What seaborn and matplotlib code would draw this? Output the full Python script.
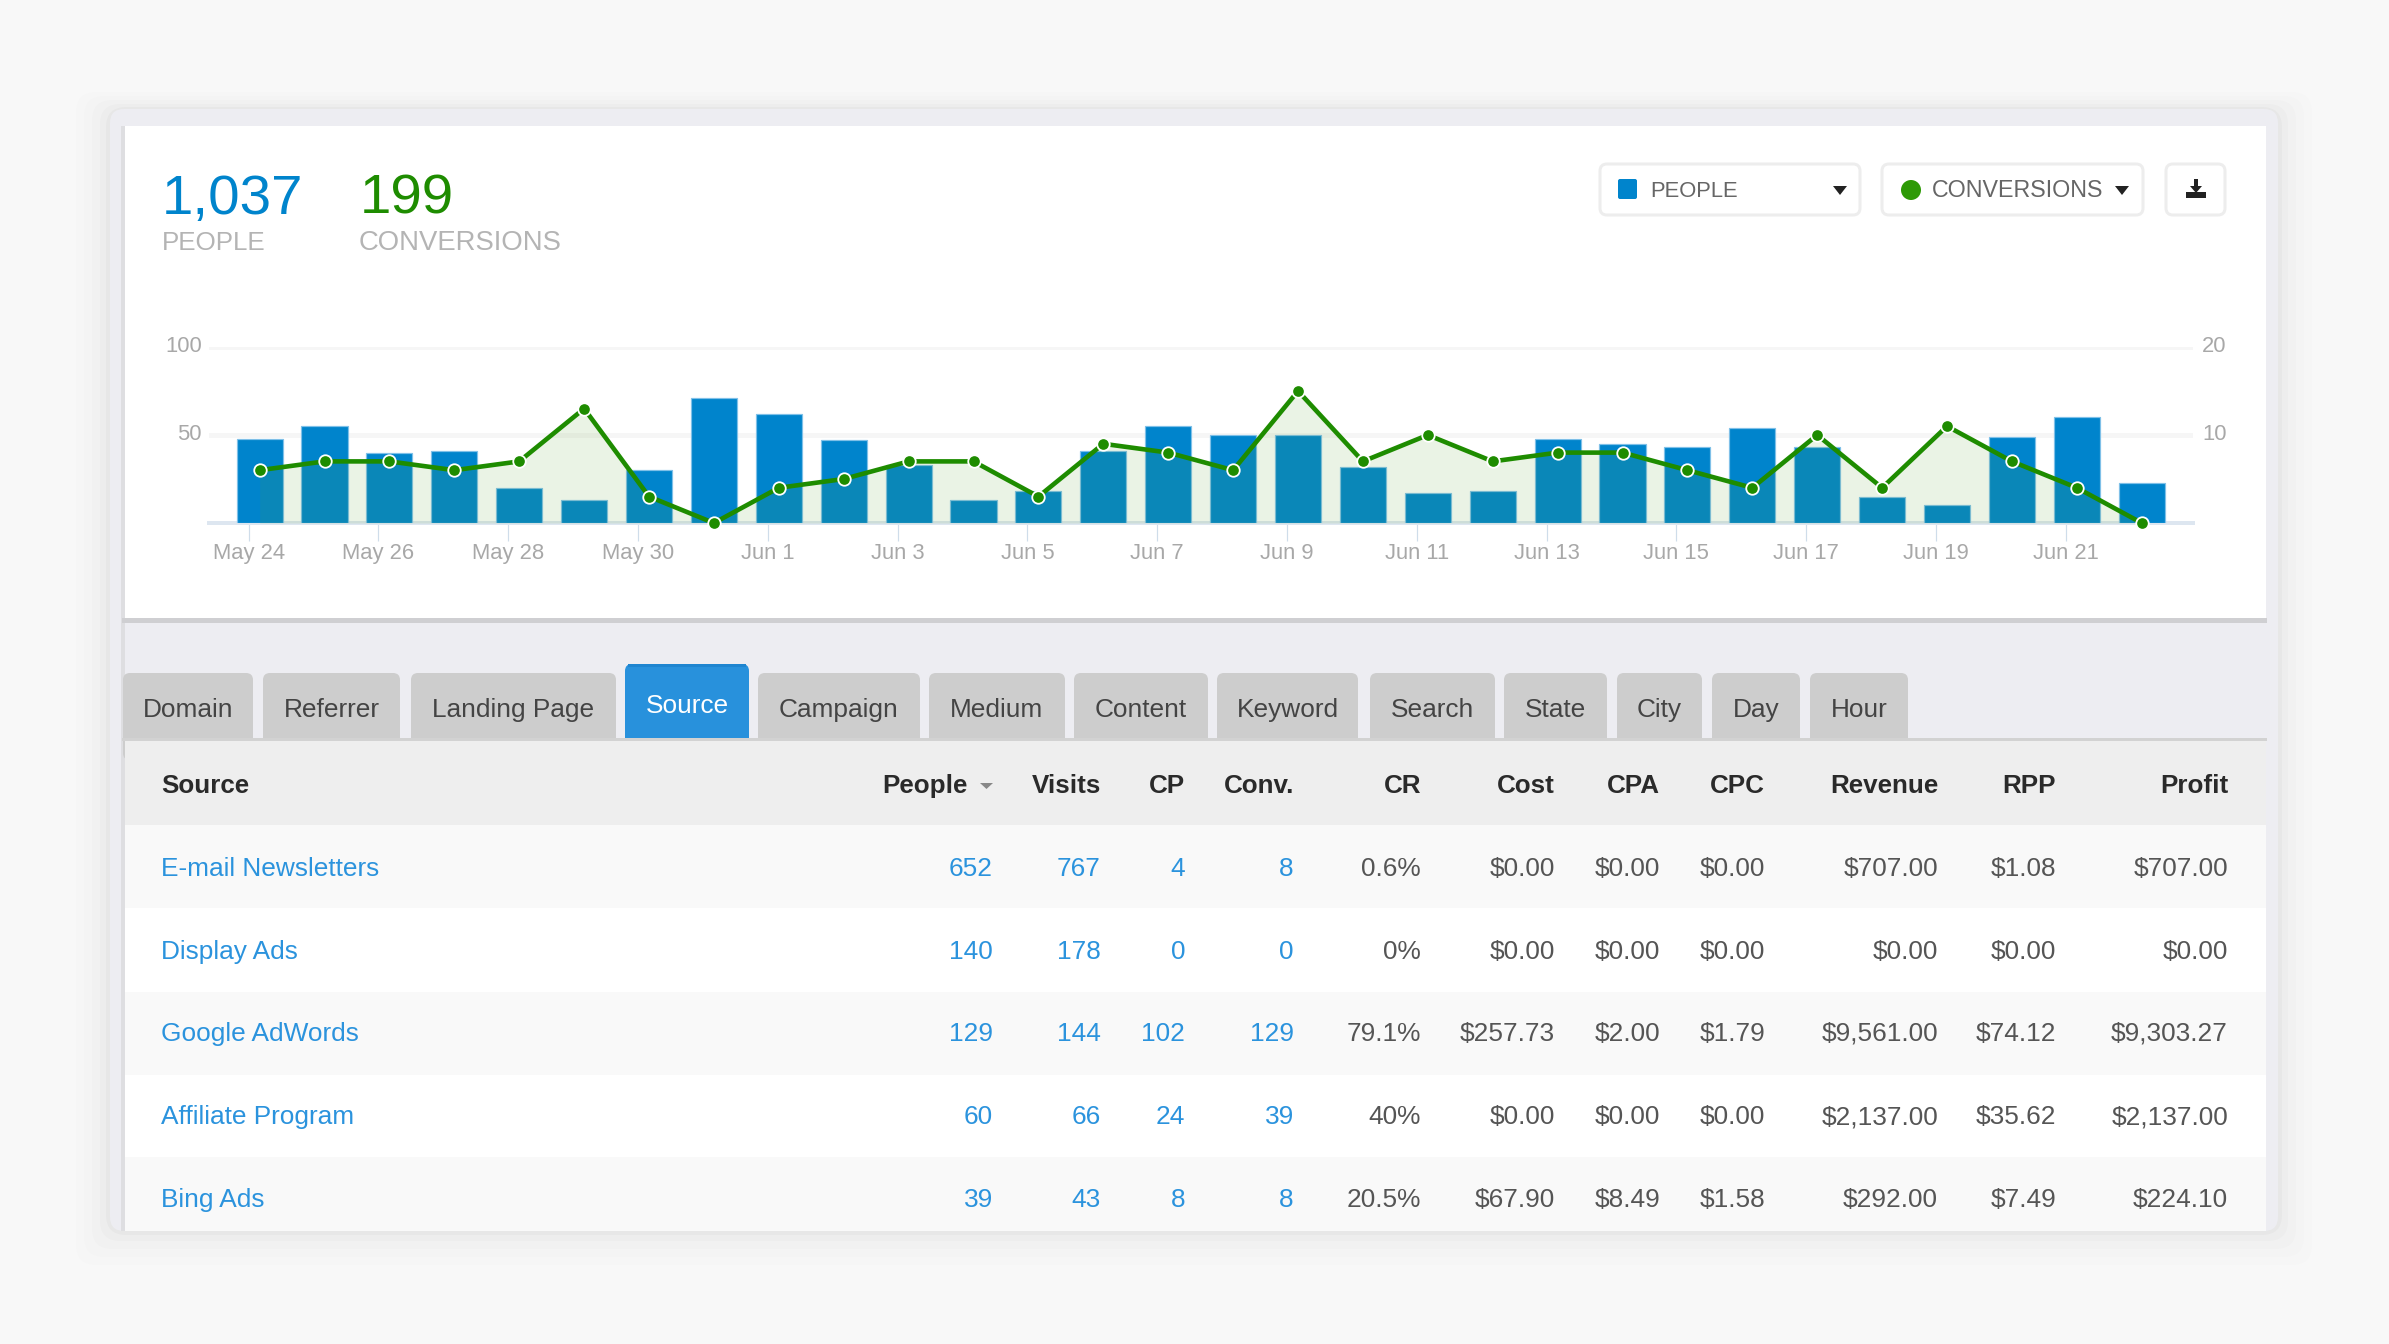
import numpy as np
import pandas as pd
import seaborn as sns
import matplotlib.pyplot as plt
from matplotlib.patches import FancyBboxPatch, Rectangle, Polygon, Circle
from matplotlib.transforms import ScaledTranslation

W, H = 2389, 1344

######################### Chart data #############################
days = ["May 24", "May 25", "May 26", "May 27", "May 28", "May 29", "May 30", "May 31",
        "Jun 1", "Jun 2", "Jun 3", "Jun 4", "Jun 5", "Jun 6", "Jun 7", "Jun 8", "Jun 9",
        "Jun 10", "Jun 11", "Jun 12", "Jun 13", "Jun 14", "Jun 15", "Jun 16", "Jun 17",
        "Jun 18", "Jun 19", "Jun 20", "Jun 21", "Jun 22"]
people = [48, 55, 40, 41, 20, 13, 30, 71, 62, 47, 33, 13, 18, 41, 55,
          50, 50, 32, 17, 18, 48, 45, 43, 54, 43, 15, 10, 49, 60, 23]
conversions = [6, 7, 7, 6, 7, 13, 3, 0, 4, 5, 7, 7, 3, 9, 8,
               6, 15, 7, 10, 7, 8, 8, 6, 4, 10, 4, 11, 7, 4, 0]
left_ticks = [0, 50, 100]
right_ticks = [0, 10, 20]

######################### Table data #############################
tab_names = ["Domain", "Referrer", "Landing Page", "Source", "Campaign", "Medium", "Content",
             "Keyword", "Search", "State", "City", "Day", "Hour"]
columns = ["People", "Visits", "CP", "Conv.", "CR", "Cost", "CPA", "CPC", "Revenue", "RPP", "Profit"]
sources = ["E-mail Newsletters", "Display Ads", "Google AdWords", "Affiliate Program", "Bing Ads"]
col_people = ["652", "140", "129", "60", "39"]
col_visits = ["767", "178", "144", "66", "43"]
col_cp = ["4", "0", "102", "24", "8"]
col_conv = ["8", "0", "129", "39", "8"]
col_cr = ["0.6%", "0%", "79.1%", "40%", "20.5%"]
col_cost = ["$0.00", "$0.00", "$257.73", "$0.00", "$67.90"]
col_cpa = ["$0.00", "$0.00", "$2.00", "$0.00", "$8.49"]
col_cpc = ["$0.00", "$0.00", "$1.79", "$0.00", "$1.58"]
col_revenue = ["$707.00", "$0.00", "$9,561.00", "$2,137.00", "$292.00"]
col_rpp = ["$1.08", "$0.00", "$74.12", "$35.62", "$7.49"]
col_profit = ["$707.00", "$0.00", "$9,303.27", "$2,137.00", "$224.10"]

# pixel layout of the page
tab_edges = [(123, 253), (263, 400), (411, 616), (625, 749), (758, 920), (929, 1065), (1074, 1208),
             (1217, 1358), (1370, 1495), (1504, 1607), (1617, 1702), (1712, 1800), (1810, 1908)]
col_right = [993, 1101, 1185, 1294, 1421, 1555, 1660, 1765, 1938, 2056, 2228]
row_edges = [825, 908, 992, 1075, 1157, 1231]
row_base = [876, 959, 1041, 1124, 1207]

BLUE = "#0084CC"
GREEN = "#1E8C00"
LINK = "#2B93DD"


def pt(px):
    # font size / line width in points for a size in pixels at dpi 100
    return px * 0.72


def box(ax, x0, y0, x1, y1, color, radius=0, ec="none", lw=0, z=1, alpha=None):
    if radius:
        patch = FancyBboxPatch((x0 + radius, y0 + radius), x1 - x0 - 2 * radius, y1 - y0 - 2 * radius,
                               boxstyle=f"round,pad={radius}", fc=color, ec=ec, lw=lw, zorder=z, alpha=alpha)
    else:
        patch = Rectangle((x0, y0), x1 - x0, y1 - y0, fc=color, ec=ec, lw=lw, zorder=z, alpha=alpha)
    ax.add_patch(patch)


sns.set_style("white")
plt.rcParams["font.family"] = ["Liberation Sans", "DejaVu Sans"]

fig = plt.figure(figsize=(W / 100, H / 100), dpi=100, facecolor="#F8F8F8")

########################## Page chrome ###########################
ui = fig.add_axes([0, 0, 1, 1], zorder=0)
ui.set_xlim(0, W)
ui.set_ylim(H, 0)
ui.axis("off")

# soft shadow around the card
for grow, a in zip([34, 26, 18, 10, 4], [0.006, 0.008, 0.012, 0.016, 0.022]):
    box(ui, 110 - grow, 109 - grow * 0.5, 2278 + grow, 1231 + grow, "#000000", radius=20, z=1, alpha=a)
box(ui, 110, 109, 2278, 1231, "#EDEDF2", radius=14, z=2)
box(ui, 121, 126, 125, 1231, "#DEDEE1", z=2)
box(ui, 125, 126, 2266, 618, "white", z=3)
box(ui, 122, 618, 2267, 623, "#CFCFD2", z=3)

# summary numbers
ui.text(162, 214, "1,037", color=BLUE, fontsize=pt(56.5), zorder=5)
ui.text(360, 214, "199", color=GREEN, fontsize=pt(56.5), zorder=5)
ui.text(162, 250, "PEOPLE", color="#B4B4B4", fontsize=pt(26), zorder=5)
ui.text(359, 250, "CONVERSIONS", color="#B4B4B4", fontsize=pt(27.5), zorder=5)

# buttons above the chart
for x0, x1 in [(1600, 1860), (1882, 2143), (2166, 2225)]:
    box(ui, x0, 164, x1, 215, "white", radius=7, ec="#EDEDED", lw=pt(3), z=4)
box(ui, 1618, 179, 1637, 199, BLUE, radius=2, z=5)
ui.add_patch(Circle((1911, 190), 10, fc="#2E9A06", ec="none", zorder=5))
ui.text(1650, 197, "PEOPLE", color="#666666", fontsize=pt(22), zorder=5)
ui.text(1932, 197, "CONVERSIONS", color="#666666", fontsize=pt(23.2), zorder=5)
for cx in [1840, 2122]:
    ui.add_patch(Polygon([(cx - 7, 186), (cx + 7, 186), (cx, 195)], fc="#222222", ec="none", zorder=5))
# download icon
ui.add_patch(Polygon([(2194, 179), (2198, 179), (2198, 186), (2202, 186), (2196, 193), (2190, 186), (2194, 186)],
                     fc="#222222", ec="none", zorder=5))
box(ui, 2186, 192, 2206, 198, "#222222", z=5)

# tabs
for name, (x0, x1) in zip(tab_names, tab_edges):
    active = name == "Source"
    top_px = 664 if active else 673
    box(ui, x0, top_px, x1, 760, "#2891DC" if active else "#CDCDCD", radius=7, z=4)
    if active:
        box(ui, x0 + 3, top_px, x1 - 3, top_px + 3, "#1F85D0", z=4)
    ui.text((x0 + x1) / 2, 713 if active else 717, name, ha="center",
            color="white" if active else "#444444", fontsize=pt(26.2), zorder=6)

########################### Table ################################
box(ui, 122, 738, 2267, 741, "#D2D2D2", z=5)
box(ui, 125, 741, 2266, 825, "#EEEEEE", z=5)
for i in range(5):
    box(ui, 125, row_edges[i], 2266, row_edges[i + 1], "#F9F9F9" if i % 2 == 0 else "white", z=5)

ui.text(161, 793, "Source", color="#2A2A2A", fontsize=pt(26), fontweight="bold", zorder=6)
for name, x in zip(columns, col_right):
    x_text = 968 if name == "People" else x
    ui.text(x_text, 793, name, ha="right", color="#2A2A2A", fontsize=pt(26), fontweight="bold", zorder=6)
ui.add_patch(Polygon([(980, 783), (993, 783), (986.5, 789)], fc="#888888", ec="none", zorder=6))

table_cols = [col_people, col_visits, col_cp, col_conv, col_cr, col_cost, col_cpa, col_cpc,
              col_revenue, col_rpp, col_profit]
for i, name in enumerate(sources):
    ui.text(161, row_base[i], name, color=LINK, fontsize=pt(26.2), zorder=6)
    for j, values in enumerate(table_cols):
        ui.text(col_right[j], row_base[i], values[i], ha="right", fontsize=pt(26.2), zorder=6,
                color=LINK if j < 4 else "#555555")

########################### Chart ################################
left, right, base, top = 209, 2193, 523, 347
x_range = (-0.78, 29.79)
ax = fig.add_axes([left / W, 1 - base / H, (right - left) / W, (base - top) / H], zorder=2)
ax.patch.set_visible(False)

df = pd.DataFrame({"day": days, "people": people, "conversions": conversions})
df["pos"] = np.arange(len(df))

sns.barplot(data=df, x="day", y="people", color=BLUE, saturation=1, width=0.71,
            edgecolor="#7FC0E8", linewidth=pt(1.2), ax=ax, zorder=3)
ax.set_xlim(*x_range)
ax.set_ylim(0, 100)
ax.set_xlabel("")
ax.set_ylabel("")
ax.set_yticks(left_ticks[1:], [str(v) for v in left_ticks[1:]])
ax.grid(axis="y", color="#F6F6F6", lw=pt(5), zorder=0)
ax.set_axisbelow(True)
for side in ["top", "left", "right"]:
    ax.spines[side].set_visible(False)
ax.spines["bottom"].set_color("#DDE6F0")
ax.spines["bottom"].set_linewidth(pt(4))

# the date ticks sit a little left of the bar they belong to
tick_idx = df["pos"].to_numpy()[::2][:15]
ax.set_xticks(tick_idx - 0.17, [days[i] for i in tick_idx])
ax.tick_params(axis="x", length=pt(18), width=pt(1.2), color="#CFDDEA", pad=pt(2),
               labelsize=pt(22), labelcolor="#A8A8A8", bottom=True)
ax.tick_params(axis="y", length=0, pad=pt(7), labelsize=pt(22), labelcolor="#A8A8A8")

ax2 = ax.twinx()
ax2.set_ylim(0, 20)
ax2.set_yticks(right_ticks[1:], [str(v) for v in right_ticks[1:]])
ax2.tick_params(axis="y", length=0, pad=pt(9), labelsize=pt(22), labelcolor="#A8A8A8")
for side in ["top", "left", "right", "bottom"]:
    ax2.spines[side].set_visible(False)
ax2.grid(False)
ax2.fill_between(df["pos"], df["conversions"], 0, color="#5A9E2F", alpha=0.12, lw=0, zorder=2)
sns.lineplot(data=df, x="pos", y="conversions", color=GREEN, lw=pt(4.6), marker="o", markersize=pt(12.5),
             markeredgecolor="white", markeredgewidth=pt(1.8), clip_on=False, ax=ax2, zorder=4, errorbar=None)
ax2.set_xlabel("")
ax2.set_ylabel("")
ax2.set_xlim(*x_range)

# value labels ride slightly above their gridlines
nudge = ScaledTranslation(0, 3 / 100, fig.dpi_scale_trans)
for label in ax.get_yticklabels() + ax2.get_yticklabels():
    label.set_transform(label.get_transform() + nudge)

fig.savefig("out.png", dpi=100, facecolor=fig.get_facecolor())
